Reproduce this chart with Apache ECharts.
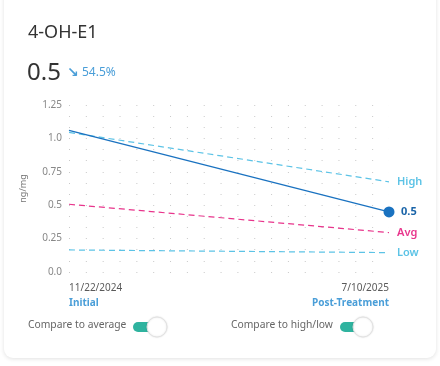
<!DOCTYPE html>
<html>
<head>
<meta charset="utf-8">
<script src="https://cdn.jsdelivr.net/npm/echarts@6/dist/echarts.min.js"></script>
<style>
html,body{margin:0;padding:0;background:#ffffff;width:440px;height:366px;overflow:hidden;}
#card{position:absolute;left:4px;top:-10px;width:432px;height:368px;background:#fff;border-radius:9px;box-shadow:0 1px 4px rgba(0,0,0,0.12);}
#chart{position:absolute;left:0;top:0;width:440px;height:366px;}
</style>
</head>
<body>
<div id="card"></div>
<div id="chart"></div>
<script>
// ---- data ----
var categories = ['11/22/2024', '7/10/2025'];
var stageLabels = ['Initial', 'Post-Treatment'];
var patientValues = [1.06, 0.45];
var highValues = [1.045, 0.675];
var avgValues = [0.507, 0.295];
var lowValues = [0.165, 0.145];
var yTickLabels = ['0.0', '0.25', '0.5', '0.75', '1.0', '1.25'];
var markerName = '4-OH-E1';
var latestText = '0.5';
var changeText = '54.5%';
var unitText = 'ng/mg';
var seriesNames = ['High', 'Avg', 'Low'];

var FONT = '"Noto Sans", "Open Sans", sans-serif';
var BLUE = '#1a72c0', LIGHT = '#5cc3e6', PINK = '#e8358c', LINKBLUE = '#4a9ed8';

var chart = echarts.init(document.getElementById('chart'), null, {renderer: 'canvas'});

function dashed(name, data, color) {
  return {
    name: name, type: 'line', data: data, symbol: 'none', silent: true,
    lineStyle: {color: color, width: 1.2, type: [6, 4]},
    endLabel: {show: true, formatter: name, color: color, fontSize: 11, fontWeight: 600, fontFamily: FONT, distance: 8}
  };
}

var option = {
  animation: false,
  textStyle: {fontFamily: FONT},
  grid: {left: 69, right: 51, top: 105, bottom: 94},
  xAxis: {
    type: 'category', data: categories, boundaryGap: false,
    axisLine: {show: false}, axisTick: {show: false}, splitLine: {show: false},
    axisLabel: {
      margin: 9, alignMinLabel: 'left', alignMaxLabel: 'right',
      formatter: function (v, i) { return '{d|' + v + '}\n{s|' + stageLabels[i] + '}'; },
      rich: {
        d: {fontSize: 10, color: '#5a5a5a', lineHeight: 15, fontFamily: FONT},
        s: {fontSize: 10, color: LINKBLUE, fontWeight: 'bold', lineHeight: 15, fontFamily: FONT}
      }
    }
  },
  yAxis: [{
    type: 'value', min: 0, max: 1.25, interval: 0.25,
    name: unitText, nameLocation: 'middle', nameGap: 41, nameRotate: 90,
    nameTextStyle: {fontSize: 9, color: '#777', fontFamily: FONT},
    axisLine: {show: false}, axisTick: {show: false}, splitLine: {show: false},
    axisLabel: {
      fontSize: 10, color: '#888', margin: 7, fontFamily: FONT,
      formatter: function (v) { return yTickLabels[Math.round(v / 0.25)]; }
    }
  }, {
    type: 'value', min: 0, max: 15, interval: 1, show: true,
    axisLine: {show: false}, axisTick: {show: false}, axisLabel: {show: false},
    splitLine: {show: true, lineStyle: {color: '#c9c9c9', width: 1, type: [1, 15.84]}}
  }],
  series: [
    dashed(seriesNames[0], highValues, LIGHT),
    dashed(seriesNames[1], avgValues, PINK),
    dashed(seriesNames[2], lowValues, LIGHT),
    {
      name: 'Patient', type: 'line', data: patientValues, silent: true,
      symbol: 'circle',
      symbolSize: function (v, p) { return p.dataIndex === patientValues.length - 1 ? 11 : 0; },
      itemStyle: {color: BLUE},
      lineStyle: {color: BLUE, width: 1.3},
      endLabel: {show: true, formatter: latestText, color: '#1a64a8', fontSize: 11, fontWeight: 'bold', fontFamily: FONT, distance: 12}
    }
  ],
  graphic: [
    {type: 'text', left: 28, top: 24, style: {text: markerName, fontSize: 18, fill: '#333', fontFamily: FONT}},
    {type: 'text', left: 27, top: 61, style: {text: latestText, fontSize: 24, fill: '#333', fontFamily: FONT}},
    {type: 'text', left: 67, top: 66, style: {text: '\u2198', fontSize: 14, fill: LINKBLUE, fontWeight: 'bold', fontFamily: '"DejaVu Sans", sans-serif'}},
    {type: 'text', left: 82, top: 67, style: {text: changeText, fontSize: 12, fill: LINKBLUE, fontFamily: FONT}},
    // toggles
    {type: 'text', left: 28, top: 320, style: {text: 'Compare to average', fontSize: 10.3, fill: '#666', fontFamily: FONT}},
    {type: 'rect', shape: {x: 133, y: 322, width: 26, height: 10, r: 5}, style: {fill: '#2fb39f'}},
    {type: 'circle', shape: {cx: 157, cy: 327, r: 10}, style: {fill: '#fff', stroke: '#e2e2e2', lineWidth: 1, shadowBlur: 2, shadowColor: 'rgba(0,0,0,0.12)'}},
    {type: 'text', left: 231, top: 320, style: {text: 'Compare to high/low', fontSize: 10.3, fill: '#666', fontFamily: FONT}},
    {type: 'rect', shape: {x: 340, y: 322, width: 26, height: 10, r: 5}, style: {fill: '#2fb39f'}},
    {type: 'circle', shape: {cx: 363, cy: 327, r: 10}, style: {fill: '#fff', stroke: '#e2e2e2', lineWidth: 1, shadowBlur: 2, shadowColor: 'rgba(0,0,0,0.12)'}}
  ]
};
chart.setOption(option);
</script>
</body>
</html>
